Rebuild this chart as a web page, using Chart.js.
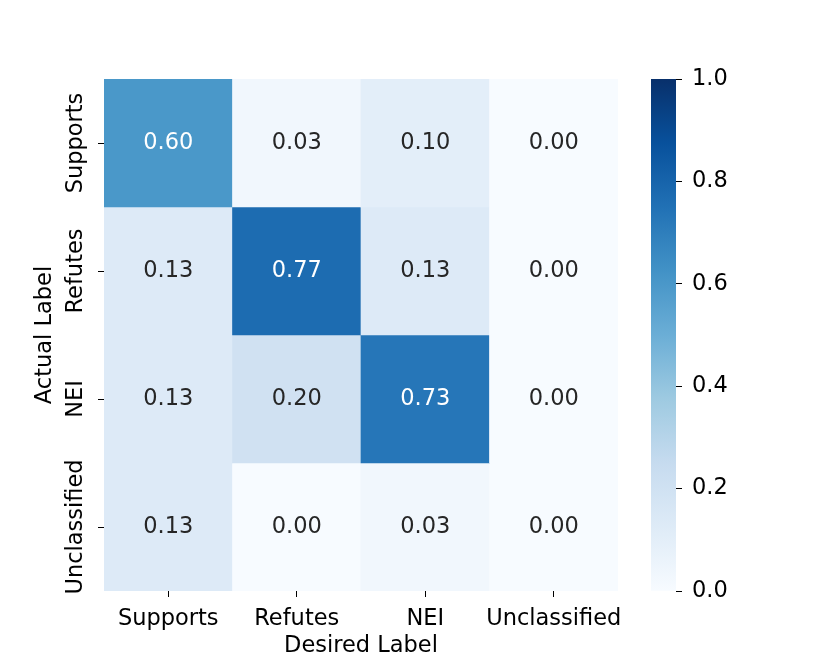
<!DOCTYPE html>
<html>
<head>
<meta charset="utf-8">
<script src="https://cdn.jsdelivr.net/npm/chart.js@4.4.1/dist/chart.umd.min.js"></script>
<style>
  html, body { margin: 0; padding: 0; background: #fff; }
  #wrap { position: relative; width: 830px; height: 664px; }
  #wrap canvas { position: absolute; left: 0; top: 0; }
</style>
</head>
<body>
<div id="wrap">
  <canvas id="heatmap" width="830" height="664"></canvas>
  <canvas id="colorbar" width="830" height="664"></canvas>
</div>
<script>
// categories
const desiredLabels = ["Supports", "Refutes", "NEI", "Unclassified"];
const actualLabels = ["Supports", "Refutes", "NEI", "Unclassified"];

// one row per actual label, columns follow desiredLabels
const rowSupports = [0.60, 0.03, 0.10, 0.00];
const rowRefutes = [0.13, 0.77, 0.13, 0.00];
const rowNei = [0.13, 0.20, 0.73, 0.00];
const rowUnclassified = [0.13, 0.00, 0.03, 0.00];
const rows = [rowSupports, rowRefutes, rowNei, rowUnclassified];

const colorbarTicks = [0.0, 0.2, 0.4, 0.6, 0.8, 1.0];

const FONT = "DejaVu Sans";
const FS = 22.5;

// matplotlib "Blues"
const blues = [
  [247, 251, 255], [222, 235, 247], [198, 219, 239], [158, 202, 225],
  [107, 174, 214], [66, 146, 198], [33, 113, 181], [8, 81, 156], [8, 48, 107]
];
function bluesRgb(v) {
  const t = Math.max(0, Math.min(1, v)) * (blues.length - 1);
  const i = Math.min(Math.floor(t), blues.length - 2);
  const f = t - i;
  return blues[i].map((c, k) => c + (blues[i + 1][k] - c) * f);
}
function bluesColor(v) {
  const c = bluesRgb(v).map(Math.round);
  return "rgb(" + c.join(",") + ")";
}
function luminance(rgb) {
  const lin = rgb.map(c => {
    c = c / 255;
    return c <= 0.03928 ? c / 12.92 : Math.pow((c + 0.055) / 1.055, 2.4);
  });
  return 0.2126 * lin[0] + 0.7152 * lin[1] + 0.0722 * lin[2];
}

// cell values written on top of the bars
const annotate = {
  id: "annotate",
  afterDatasetsDraw(chart) {
    const ctx = chart.ctx;
    ctx.save();
    ctx.font = FS + "px '" + FONT + "'";
    ctx.textAlign = "center";
    ctx.textBaseline = "middle";
    chart.data.datasets.forEach((ds, r) => {
      chart.getDatasetMeta(r).data.forEach((bar, j) => {
        const v = rows[r][j];
        ctx.fillStyle = luminance(bluesRgb(v)) > 0.408 ? "#262626" : "#ffffff";
        ctx.fillText(v.toFixed(2), bar.x, (bar.y + bar.base) / 2);
      });
    });
    ctx.restore();
  }
};

// vertical y tick labels, like matplotlib's rotated ones
const yLabels = {
  id: "yLabels",
  afterDraw(chart) {
    const ctx = chart.ctx;
    const y = chart.scales.y;
    ctx.save();
    ctx.font = FS + "px '" + FONT + "'";
    ctx.fillStyle = "#000";
    ctx.textAlign = "center";
    ctx.textBaseline = "alphabetic";
    y.ticks.forEach((t, i) => {
      ctx.save();
      ctx.translate(82, y.getPixelForValue(t.value));
      ctx.rotate(-Math.PI / 2);
      ctx.fillText(actualLabels[i], 0, 0);
      ctx.restore();
    });
    ctx.restore();
  }
};

new Chart(document.getElementById("heatmap"), {
  type: "bar",
  data: {
    labels: desiredLabels,
    datasets: rows.map((row, r) => ({
      label: actualLabels[r],
      data: row.map(() => [r, r + 1]),
      backgroundColor: row.map(bluesColor),
      borderWidth: 0,
      barPercentage: 1,
      categoryPercentage: 1,
      grouped: false
    }))
  },
  options: {
    responsive: false,
    animation: false,
    layout: { padding: { top: 79, right: 212, bottom: 0, left: 0 } },
    plugins: { legend: { display: false }, tooltip: { enabled: false } },
    scales: {
      x: {
        offset: true,
        border: { display: false },
        grid: { offset: false, drawOnChartArea: false, drawTicks: true, tickLength: 6, color: "#000" },
        ticks: { color: "#000", padding: 9, autoSkip: false, minRotation: 0, maxRotation: 0, font: { family: FONT, size: FS } },
        title: { display: true, text: "Desired Label", color: "#000", padding: { top: 0, bottom: 4 }, font: { family: FONT, size: FS } },
        afterFit(scale) { scale.height = 73; }
      },
      y: {
        type: "linear",
        min: 0,
        max: 4,
        reverse: true,
        afterBuildTicks(scale) {
          scale.ticks = actualLabels.map((l, i) => ({ value: i + 0.5 }));
        },
        border: { display: false },
        grid: { drawOnChartArea: false, drawTicks: true, tickLength: 6, color: "#000" },
        ticks: { display: false },
        title: { display: true, text: "Actual Label", color: "#000", padding: { top: 31.5, bottom: 0 }, font: { family: FONT, size: FS } },
        afterFit(scale) { scale.width = 104; }
      }
    }
  },
  plugins: [annotate, yLabels]
});

// colour bar
new Chart(document.getElementById("colorbar"), {
  type: "bar",
  data: {
    labels: [""],
    datasets: [{
      data: [[0, 1]],
      borderWidth: 0,
      barPercentage: 1,
      categoryPercentage: 1,
      backgroundColor(c) {
        const area = c.chart.chartArea;
        if (!area) return "#6baed6";
        const g = c.chart.ctx.createLinearGradient(0, area.bottom, 0, area.top);
        blues.forEach((b, i) => g.addColorStop(i / (blues.length - 1), "rgb(" + b.join(",") + ")"));
        return g;
      }
    }]
  },
  options: {
    responsive: false,
    animation: false,
    layout: { padding: { top: 79, right: 0, bottom: 73, left: 651 } },
    plugins: { legend: { display: false }, tooltip: { enabled: false } },
    scales: {
      x: { display: false },
      y: {
        position: "right",
        min: 0,
        max: 1,
        afterBuildTicks(scale) {
          scale.ticks = colorbarTicks.map(v => ({ value: v }));
        },
        border: { display: false },
        grid: { drawOnChartArea: false, drawTicks: true, tickLength: 6, color: "#000" },
        ticks: { color: "#000", padding: 10, font: { family: FONT, size: FS }, callback: v => Number(v).toFixed(1) },
        afterFit(scale) { scale.width = 154; }
      }
    }
  }
});
</script>
</body>
</html>
